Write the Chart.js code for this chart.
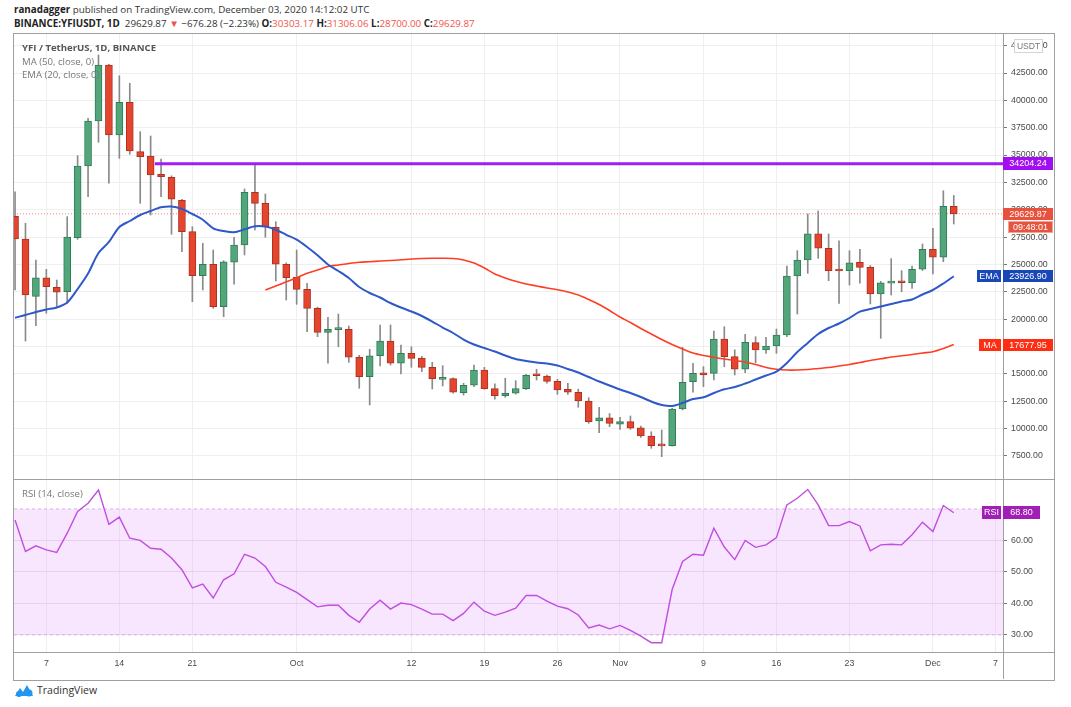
<!DOCTYPE html>
<html>
<head>
<meta charset="utf-8">
<title>YFI / TetherUS, 1D, BINANCE</title>
<script src="https://cdn.jsdelivr.net/npm/chart.js"></script>
<style>
  body { margin: 0; background: #fff; width: 1071px; height: 707px; overflow: hidden; position: relative;
         font-family: "Open Sans", "Liberation Sans", sans-serif; }
  .hdr { position: absolute; left: 14px; font-size: 9.8px; color: #333; white-space: nowrap; }
  #h1 { top: 3px; }
  #h2 { top: 17px; }
  .b { font-weight: bold; color: #222; }
  .red { color: #f0564c; }
  #frame { position: absolute; left: 13px; top: 33px; width: 1040px; height: 646px; border: 1px solid #a0a0a0; }
  .sep { position: absolute; background: #a0a0a0; }
  canvas { position: absolute; }
  #mainChart { left: 14px; top: 34px; }
  #rsiChart { left: 14px; top: 480px; }
  .lbl { position: absolute; left: 22px; font-size: 9.6px; color: #777; white-space: nowrap; }
  #logo { position: absolute; left: 14px; top: 683px; font-size: 10.5px; color: #333; display: flex; align-items: center; gap: 3px; }
</style>
</head>
<body>
<div class="hdr" id="h1"><span class="b">ranadagger</span> published on TradingView.com, December 03, 2020 14:12:02 UTC</div>
<div class="hdr" id="h2"><span class="b">BINANCE:YFIUSDT, 1D</span>&nbsp; 29629.87 <span class="red">&#9660;</span> &minus;676.28 (&minus;2.23%) <span class="b">O:</span><span class="red">30303.17</span> <span class="b">H:</span><span class="red">31306.06</span> <span class="b">L:</span><span class="red">28700.00</span> <span class="b">C:</span><span class="red">29629.87</span></div>

<div id="frame"></div>
<canvas id="mainChart" width="1040" height="445"></canvas>
<canvas id="rsiChart" width="1040" height="200"></canvas>
<div class="sep" style="left:14px; top:479px; width:1040px; height:1px;"></div>
<div class="sep" style="left:14px; top:652px; width:1040px; height:1px;"></div>
<div class="sep" style="left:1003px; top:652px; width:1px; height:27px;"></div>

<div class="lbl" style="top:41px; font-weight:bold; color:#555;">YFI / TetherUS, 1D, BINANCE</div>
<div class="lbl" style="top:55px;">MA (50, close, 0)</div>
<div class="lbl" style="top:68px;">EMA (20, close, 0)</div>
<div class="lbl" style="top:487px;">RSI (14, close)</div>

<div id="logo">
  <svg width="20" height="13" viewBox="0 0 20 13"><path d="M1 12 L6 4 L9 8 L13 1 L19 12 Z" fill="#2196f3"/><circle cx="5" cy="10" r="3" fill="#2196f3"/><circle cx="15" cy="9" r="3.5" fill="#2196f3"/></svg>
  <span>TradingView</span>
</div>

<script>
// daily candles, 4 Sep 2020 (index 0) .. 3 Dec 2020 (index 90)
const openPrice = [
  29400, 27330, 22090, 23790, 22910, 22510, 27450, 34000, 38110, 43230,
  36830, 39820, 35310, 34910, 33240, 32970, 30870, 28000, 23970, 25020,
  21140, 25200, 26780, 31600, 30590, 28400, 25020, 23830, 22730, 20990,
  18800, 19050, 19070, 16520, 14740, 16660, 18000, 15970, 16880, 16450,
  15600, 14500, 14560, 13290, 13960, 15350, 13650, 13010, 13230, 13650,
  14900, 14800, 14320, 13580, 13320, 12520, 10690, 10990, 10400, 10630,
  10080, 9320, 8500, 8440, 11790, 14280, 15100, 15050, 18190, 16570,
  15420, 17850, 17180, 17550, 18550, 23950, 25410, 27790, 26480, 24500,
  24430, 25200, 24740, 22300, 23300, 23400, 23330, 24560, 26390, 25660,
  30303.17
];
const highPrice = [
  31650, 28760, 25410, 24560, 23580, 29370, 34940, 38360, 44150, 43300,
  42250, 41560, 37140, 36740, 34640, 33100, 30950, 28450, 26940, 26320,
  25350, 27480, 31900, 34090, 31440, 28910, 25150, 26320, 23280, 21100,
  20170, 20470, 19380, 16700, 17250, 19470, 19470, 17640, 17480, 16600,
  16060, 15750, 14650, 14140, 15810, 15600, 14080, 14600, 14380, 14950,
  15420, 14900, 14500, 14140, 13600, 12820, 11950, 11380, 11030, 11150,
  10230, 9710, 9870, 11850, 17430, 15970, 15660, 18920, 19310, 17200,
  18620, 18400, 18340, 19100, 24860, 26260, 29610, 29890, 27790, 27150,
  26260, 26390, 24900, 23450, 25530, 24430, 24860, 26870, 28310, 31740,
  31306.06
];
const lowPrice = [
  22670, 18000, 19400, 20540, 21140, 21450, 27300, 31190, 36170, 32420,
  34700, 35070, 30590, 29520, 31190, 27760, 26170, 21600, 22670, 20990,
  20230, 23190, 25870, 28150, 27480, 23490, 21750, 21360, 18860, 18400,
  15970, 17480, 16060, 13680, 12160, 15720, 15810, 14990, 15600, 15200,
  13620, 13890, 13230, 13070, 13830, 13600, 12680, 12860, 13150, 13550,
  14440, 14140, 13130, 13130, 11950, 10480, 9620, 10170, 9930, 9930,
  9200, 8200, 7430, 8400, 11700, 13320, 13830, 14440, 15660, 14900,
  15100, 16020, 16880, 16880, 18400, 20470, 24190, 25560, 23520, 21450,
  23120, 23280, 21390, 18250, 22210, 22510, 22820, 24450, 24130, 25250,
  28700.00
];
const closePrice = [
  27330, 22210, 23790, 22970, 22460, 27510, 34000, 38110, 43230, 36830,
  39820, 35370, 34850, 33180, 33020, 30960, 28000, 23970, 25020, 21140,
  25250, 26780, 31600, 30590, 28450, 25020, 23790, 22730, 20990, 18800,
  19070, 19080, 16520, 14740, 16660, 18000, 15970, 16880, 16420, 15600,
  14560, 14600, 13320, 13960, 15350, 13650, 13010, 13230, 13650, 14870,
  14830, 14320, 13530, 13320, 12520, 10630, 10990, 10480, 10630, 10030,
  9320, 8440, 8420, 11790, 14230, 15050, 14900, 18190, 16570, 15420,
  17890, 17180, 17550, 18550, 23950, 25410, 27790, 26480, 24430, 24400,
  25160, 24740, 22300, 23330, 23400, 23330, 24560, 26390, 25660, 30303.17,
  29629.87
];
const ema20 = [
  20134, 20380, 20655, 20884, 21067, 21524, 22758, 24175, 26048, 27054,
  28424, 28973, 29521, 29887, 30225, 30298, 30070, 29613, 29092, 28306,
  28059, 27940, 28215, 28497, 28470, 28178, 27712, 27264, 26596, 25838,
  24997, 24403, 23763, 22940, 22392, 21981, 21478, 21067, 20701, 20290,
  19787, 19239, 18736, 18142, 17685, 17365, 17045, 16680, 16360, 16177,
  16040, 15948, 15765, 15446, 15126, 14714, 14303, 13938, 13572, 13252,
  12887, 12476, 12156, 12064, 12338, 12704, 12859, 13252, 13590, 13800,
  14120, 14486, 14851, 15199, 15994, 16999, 17822, 18645, 19193, 19604,
  20107, 20683, 20930, 21158, 21387, 21615, 21798, 22255, 22666, 23260,
  23926.90
];
const ma50Start = 24;  // first day with an MA value on the chart
const ma50 = [
  22666, 23032, 23416, 23781, 24202, 24494, 24814, 24951, 25088, 25198,
  25253, 25317, 25362, 25426, 25500, 25545, 25564, 25564, 25545, 25408,
  25134, 24677, 24129, 23763, 23461, 23215, 23032, 22849, 22694, 22483,
  22209, 21798, 21341, 20793, 20198, 19696, 19148, 18645, 18142, 17685,
  17274, 16908, 16680, 16515, 16360, 16223, 16085, 15857, 15583, 15418,
  15354, 15354, 15400, 15491, 15583, 15720, 15857, 16040, 16223, 16378,
  16542, 16652, 16771, 16908, 17027, 17320, 17677.95
];
const rsi14 = [
  66.5, 56.5, 58.3, 57.0, 56.2, 62.3, 69.2, 71.8, 76.0, 65.1,
  67.4, 60.7, 60.0, 57.5, 57.2, 54.4, 50.7, 44.9, 46.1, 41.7,
  47.5, 49.4, 55.6, 54.4, 51.7, 46.7, 45.2, 43.5, 41.2, 38.9,
  39.4, 39.4, 36.2, 34.0, 38.2, 41.0, 38.2, 40.1, 39.6, 38.2,
  36.6, 36.6, 34.5, 36.8, 40.4, 37.5, 36.2, 37.2, 38.5, 42.5,
  42.5, 40.7, 39.1, 38.3, 36.3, 32.2, 33.1, 31.9, 33.0, 31.4,
  29.6, 27.5, 27.5, 44.4, 53.3, 55.6, 55.3, 63.9, 57.9, 53.9,
  60.0, 57.8, 58.6, 60.9, 71.3, 73.4, 76.2, 71.3, 64.7, 64.7,
  66.0, 64.6, 56.7, 58.6, 58.8, 58.6, 61.8, 65.8, 62.8, 71.1,
  68.8
];
const tickDays = [3, 10, 17, 27, 38, 45, 52, 58, 66, 73, 80, 88, 94];
const tickLabels = ['7', '14', '21', 'Oct', '12', '19', '26', 'Nov', '9', '16', '23', 'Dec', '7'];
const priceTicks = [7500, 10000, 12500, 15000, 17500, 20000, 22500, 25000, 27500, 30000,
                    32500, 35000, 37500, 40000, 42500, 45000];
const rsiTicks = [30, 40, 50, 60];
const resistance = 34204.24;
const resistanceFrom = 13.4;
const lastPrice = 29629.87;
const countdown = '09:48:01';
const rsiBands = [70, 30];

const xMin = -0.1, xMax = 94.72;
const axisFont = { family: '"Liberation Sans", Arial, sans-serif', size: 8.8 };
const axisColor = '#4a4a4a';
const gridColor = '#efefef';
const upColor = '#53a67b', upBorder = '#2f7d53';
const downColor = '#e3452f', downBorder = '#b0301f';

const days = closePrice.map((c, i) => i);
const isUp = days.map(i => closePrice[i] >= openPrice[i]);

// keep the plot area flush with the canvas edges
function noPad(s) {
  s.paddingTop = 0; s.paddingBottom = 0; s.paddingLeft = 0; s.paddingRight = 0;
}

function badge(ctx, x, yc, w, h, bg, text, border) {
  const top = Math.round(yc - h / 2);
  ctx.save();
  ctx.fillStyle = bg;
  ctx.fillRect(x, top, w, h);
  if (border) {
    ctx.strokeStyle = border;
    ctx.lineWidth = 1;
    ctx.strokeRect(x + 0.5, top + 0.5, w - 1, h - 1);
  }
  ctx.fillStyle = '#fff';
  ctx.font = '9px "Liberation Sans", Arial, sans-serif';
  ctx.textBaseline = 'middle';
  ctx.textAlign = 'center';
  ctx.fillText(text, x + w / 2, top + h / 2 + 0.5);
  ctx.restore();
}

const priceBadges = {
  id: 'priceBadges',
  afterDraw(chart) {
    const ctx = chart.ctx, y = chart.scales.y, r = chart.chartArea.right;
    // unit box at top of the price scale
    ctx.save();
    ctx.fillStyle = '#fff';
    ctx.fillRect(r + 11, 5, 29, 14);
    ctx.strokeStyle = '#d4d4d4';
    ctx.strokeRect(r + 11.5, 5.5, 28, 13);
    ctx.fillStyle = '#777';
    ctx.font = '8.5px "Liberation Sans", Arial, sans-serif';
    ctx.textAlign = 'center';
    ctx.textBaseline = 'middle';
    ctx.fillText('USDT', r + 25.5, 12.5);
    ctx.restore();

    badge(ctx, r, y.getPixelForValue(resistance), 50, 13, '#a20ef2', resistance.toFixed(2));
    const lp = y.getPixelForValue(lastPrice);
    badge(ctx, r, lp, 50, 12, '#e8513d', lastPrice.toFixed(2));
    badge(ctx, r + 5, lp + 13, 45, 12, '#e8533f', countdown, '#f3a294');
    const ep = y.getPixelForValue(ema20[ema20.length - 1]);
    badge(ctx, r - 26, ep, 24, 12, '#1a47b8', 'EMA');
    badge(ctx, r, ep, 50, 12, '#1a47b8', ema20[ema20.length - 1].toFixed(2));
    const mp = y.getPixelForValue(ma50[ma50.length - 1]);
    badge(ctx, r - 24, mp, 22, 12, '#ff2e12', 'MA');
    badge(ctx, r, mp, 50, 12, '#ff2e12', ma50[ma50.length - 1].toFixed(2));
  }
};

const rsiBadge = {
  id: 'rsiBadge',
  afterDraw(chart) {
    const ctx = chart.ctx, y = chart.scales.y, r = chart.chartArea.right;
    const p = y.getPixelForValue(rsi14[rsi14.length - 1]);
    badge(ctx, r - 21, p, 19, 13, '#a01fb4', 'RSI');
    badge(ctx, r, p, 37, 13, '#a01fb4', rsi14[rsi14.length - 1].toFixed(2));
  }
};

new Chart(document.getElementById('mainChart'), {
  data: {
    datasets: [
      {
        type: 'line', order: 1,
        data: [{ x: resistanceFrom, y: resistance }, { x: xMax, y: resistance }],
        borderColor: '#a21cf4', borderWidth: 3, pointRadius: 0
      },
      {
        type: 'line', order: 1,
        data: days.map(i => ({ x: i, y: ema20[i] })),
        borderColor: '#2f58c8', borderWidth: 2, pointRadius: 0, tension: 0.3
      },
      {
        type: 'line', order: 1,
        data: ma50.map((v, k) => ({ x: ma50Start + k, y: v })),
        borderColor: '#ff3d24', borderWidth: 1.6, pointRadius: 0, tension: 0.3
      },
      {
        type: 'bar', order: 2, grouped: false,
        data: days.map(i => ({ x: i, y: [openPrice[i], closePrice[i]] })),
        backgroundColor: days.map(i => isUp[i] ? upColor : downColor),
        borderColor: days.map(i => isUp[i] ? upBorder : downBorder),
        borderWidth: 1, borderSkipped: false, barThickness: 7, minBarLength: 2
      },
      {
        type: 'bar', order: 3, grouped: false,
        data: days.map(i => ({ x: i, y: [lowPrice[i], highPrice[i]] })),
        backgroundColor: '#8a8a8a', barThickness: 1
      },
      {
        type: 'line', order: 4,
        data: [{ x: xMin, y: lastPrice }, { x: xMax, y: lastPrice }],
        borderColor: '#f08070', borderWidth: 1, borderDash: [1, 2], pointRadius: 0
      }
    ]
  },
  options: {
    responsive: false, animation: false,
    layout: { padding: 0 },
    plugins: { legend: { display: false }, tooltip: { enabled: false } },
    scales: {
      x: {
        type: 'linear', min: xMin, max: xMax, offset: false,
        afterBuildTicks: s => { s.ticks = tickDays.map(v => ({ value: v })); },
        afterFit: s => { s.height = 0; noPad(s); },
        ticks: { display: false },
        grid: { color: gridColor, drawTicks: false, offset: false },
        border: { display: false }
      },
      y: {
        type: 'linear', position: 'right', min: 5392, max: 46065,
        afterBuildTicks: s => { s.ticks = priceTicks.map(v => ({ value: v })); },
        afterFit: s => { s.width = 51; noPad(s); },
        ticks: { callback: v => v.toFixed(2), font: axisFont, color: axisColor, padding: 4, autoSkip: false },
        grid: { color: gridColor, tickColor: '#777', tickLength: 4 },
        border: { color: '#a0a0a0' }
      }
    }
  },
  plugins: [priceBadges]
});

new Chart(document.getElementById('rsiChart'), {
  type: 'line',
  data: {
    datasets: [
      {
        data: days.map(i => ({ x: i, y: rsi14[i] })),
        borderColor: '#c04ee0', borderWidth: 1.4, pointRadius: 0
      },
      {
        data: [{ x: xMin, y: rsiBands[0] }, { x: xMax, y: rsiBands[0] }],
        borderColor: '#d9b0e6', borderWidth: 1, borderDash: [3, 3], pointRadius: 0
      },
      {
        data: [{ x: xMin, y: rsiBands[1] }, { x: xMax, y: rsiBands[1] }],
        borderColor: '#d9b0e6', borderWidth: 1, borderDash: [3, 3], pointRadius: 0,
        fill: '-1', backgroundColor: 'rgba(228, 150, 250, 0.25)'
      }
    ]
  },
  options: {
    responsive: false, animation: false,
    layout: { padding: 0 },
    plugins: { legend: { display: false }, tooltip: { enabled: false } },
    scales: {
      x: {
        type: 'linear', min: xMin, max: xMax, offset: false,
        afterBuildTicks: s => { s.ticks = tickDays.map(v => ({ value: v })); },
        afterFit: s => { s.height = 28; noPad(s); },
        ticks: {
          callback: v => tickLabels[tickDays.indexOf(v)],
          font: axisFont, color: axisColor, padding: 6, maxRotation: 0, autoSkip: false
        },
        grid: { color: gridColor, drawTicks: false },
        border: { display: false }
      },
      y: {
        type: 'linear', position: 'right', min: 24.55, max: 79.2,
        afterBuildTicks: s => { s.ticks = rsiTicks.map(v => ({ value: v })); },
        afterFit: s => { s.width = 51; noPad(s); },
        ticks: { callback: v => v.toFixed(2), font: axisFont, color: axisColor, padding: 4 },
        grid: { color: '#ecdff0', tickColor: '#777', tickLength: 4 },
        border: { color: '#a0a0a0' }
      }
    }
  },
  plugins: [rsiBadge]
});
</script>
</body>
</html>
